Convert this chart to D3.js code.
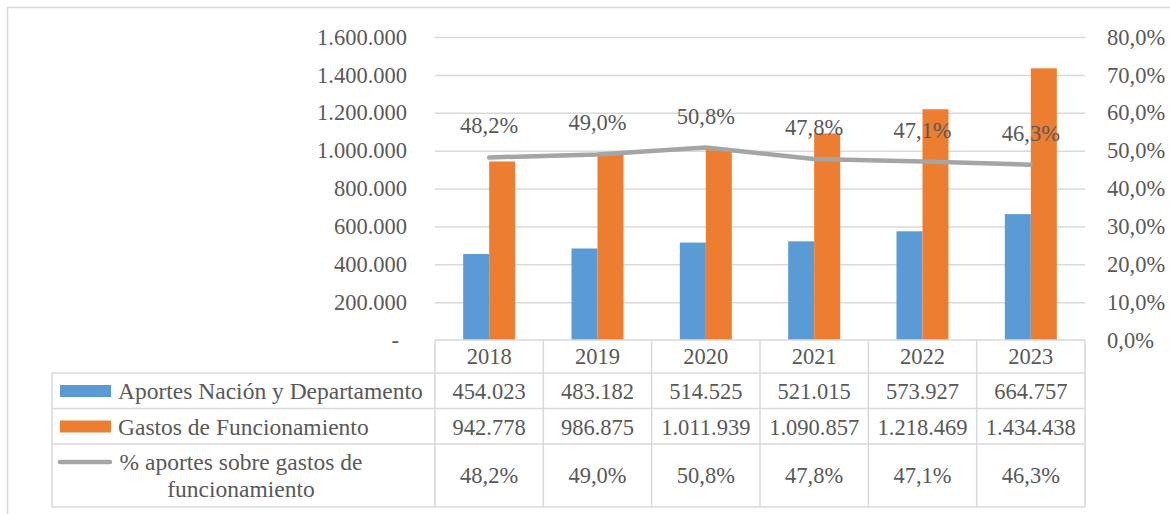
<!DOCTYPE html>
<html>
<head>
<meta charset="utf-8">
<script src="https://cdn.jsdelivr.net/npm/d3@7"></script>
<style>
  body { margin: 0; background: #fff; }
  svg { display: block; }
  svg text { font-family: "Liberation Serif", "Times New Roman", Times, Tinos, "Noto Serif", "DejaVu Serif", serif; }
</style>
</head>
<body>
<svg id="chart" width="1170" height="514"></svg>
<script>
const years = ['2018', '2019', '2020', '2021', '2022', '2023'];
const aportes = [454023, 483182, 514525, 521015, 573927, 664757];
const gastos = [942778, 986875, 1011939, 1090857, 1218469, 1434438];
const pct = [0.482, 0.490, 0.508, 0.478, 0.471, 0.463];
const leftTicks = [0, 200000, 400000, 600000, 800000, 1000000, 1200000, 1400000, 1600000];
const rightTicks = [0, 0.1, 0.2, 0.3, 0.4, 0.5, 0.6, 0.7, 0.8];

const seriesNames = ['Aportes Nación y Departamento', 'Gastos de Funcionamiento'];
const lineName = ['% aportes sobre gastos de', 'funcionamiento'];

const blue = '#5b9bd5';
const orange = '#ed7d31';
const grey = '#a5a5a5';
const textColor = '#595959';
const gridColor = '#d9d9d9';
const fs = 22.5;
const legendFs = 23.5;

const es = d3.formatLocale({ decimal: ',', thousands: '.', grouping: [3], currency: ['$', ''] });
const fmtNum = es.format(',d');
const fmtPct = es.format('.1%');

const svg = d3.select('#chart');

// outer frame
svg.append('rect')
  .attr('x', 7.5).attr('y', 7.5)
  .attr('width', 1180).attr('height', 520)
  .attr('fill', 'none').attr('stroke', gridColor).attr('stroke-width', 1.5);

const plotLeft = 435, plotRight = 1085, plotTop = 37, zero = 340;

const x = d3.scaleBand().domain(years).range([plotLeft, plotRight]).padding(0);
const bw = x.bandwidth();
const xs = d3.scaleBand().domain([0, 1]).range([bw * 0.26, bw * 0.74]).padding(0);
const y = d3.scaleLinear().domain([0, 1600000]).range([zero, plotTop]);
const y2 = d3.scaleLinear().domain([0, 0.8]).range([zero, plotTop]);

// gridlines
svg.append('g')
  .attr('transform', `translate(${plotLeft},0)`)
  .call(d3.axisRight(y).tickValues(leftTicks.slice(1)).tickSize(plotRight - plotLeft).tickFormat(''))
  .call(g => g.select('.domain').remove())
  .call(g => g.selectAll('line').attr('stroke', gridColor).attr('stroke-width', 1.5));

// left axis
svg.append('g')
  .attr('transform', 'translate(407,0)')
  .call(d3.axisLeft(y).tickValues(leftTicks).tickSize(0).tickPadding(0)
    .tickFormat(d => d === 0 ? '-' : fmtNum(d)))
  .call(g => g.select('.domain').remove())
  .call(g => g.selectAll('text')
    .attr('font-size', fs).attr('fill', textColor)
    .attr('dx', d => d === 0 ? -8 : 0));

// right axis
svg.append('g')
  .attr('transform', 'translate(1107,0)')
  .call(d3.axisRight(y2).tickValues(rightTicks).tickSize(0).tickPadding(0).tickFormat(fmtPct))
  .call(g => g.select('.domain').remove())
  .call(g => g.selectAll('text')
    .attr('font-size', fs).attr('fill', textColor));

// bars
const barData = years.map((yr, i) => ({ yr, vals: [aportes[i], gastos[i]] }));
const groups = svg.append('g').selectAll('g')
  .data(barData).enter().append('g')
  .attr('transform', d => `translate(${x(d.yr)},0)`);
groups.selectAll('rect')
  .data(d => d.vals.map((v, k) => ({ v, k })))
  .enter().append('rect')
  .attr('x', d => xs(d.k))
  .attr('y', d => y(d.v))
  .attr('width', xs.bandwidth())
  .attr('height', d => y(0) - y(d.v))
  .attr('fill', d => d.k === 0 ? blue : orange);

// line
const cx = yr => x(yr) + bw / 2;
const line = d3.line().x((d, i) => cx(years[i])).y(d => y2(d));
svg.append('path')
  .datum(pct)
  .attr('d', line)
  .attr('fill', 'none').attr('stroke', grey).attr('stroke-width', 4.5)
  .attr('stroke-linecap', 'round').attr('stroke-linejoin', 'round');

svg.append('g').selectAll('text')
  .data(pct).enter().append('text')
  .attr('x', (d, i) => cx(years[i]))
  .attr('y', d => y2(d) - 24)
  .attr('text-anchor', 'middle')
  .attr('font-size', fs).attr('fill', textColor)
  .text(d => fmtPct(d));

// data table
const rowY = [340, 373, 408.5, 444, 507];
const legendLeft = 52;
const tbl = svg.append('g')
  .attr('stroke', gridColor).attr('stroke-width', 1.5).attr('fill', 'none');
rowY.forEach((ry, r) => {
  tbl.append('line')
    .attr('x1', r === 0 ? plotLeft : legendLeft).attr('x2', plotRight)
    .attr('y1', ry).attr('y2', ry);
});
years.concat(['end']).forEach((yr, i) => {
  const lx = i < years.length ? x(yr) : plotRight;
  tbl.append('line').attr('x1', lx).attr('x2', lx).attr('y1', rowY[0]).attr('y2', rowY[4]);
});
tbl.append('line').attr('x1', legendLeft).attr('x2', legendLeft).attr('y1', rowY[1]).attr('y2', rowY[4]);

const cellText = (txt, tx, ty, anchor, size) => svg.append('text')
  .attr('x', tx).attr('y', ty)
  .attr('text-anchor', anchor || 'middle')
  .attr('font-size', size || fs).attr('fill', textColor)
  .text(txt);

years.forEach((yr, i) => {
  cellText(yr, cx(yr), 364);
  cellText(fmtNum(aportes[i]), cx(yr), 399);
  cellText(fmtNum(gastos[i]), cx(yr), 434.5);
  cellText(fmtPct(pct[i]), cx(yr), 483);
});

// legend keys
svg.append('rect').attr('x', 60).attr('y', 385).attr('width', 51).attr('height', 12).attr('fill', blue);
svg.append('rect').attr('x', 60).attr('y', 420.5).attr('width', 51).attr('height', 12).attr('fill', orange);
svg.append('line').attr('x1', 60).attr('x2', 110).attr('y1', 462).attr('y2', 462)
  .attr('stroke', grey).attr('stroke-width', 4.5).attr('stroke-linecap', 'round');
cellText(seriesNames[0], 118, 399, 'start', legendFs);
cellText(seriesNames[1], 118, 434.5, 'start', legendFs);
cellText(lineName[0], 241, 470, 'middle', legendFs);
cellText(lineName[1], 241, 497, 'middle', legendFs);
</script>
</body>
</html>
